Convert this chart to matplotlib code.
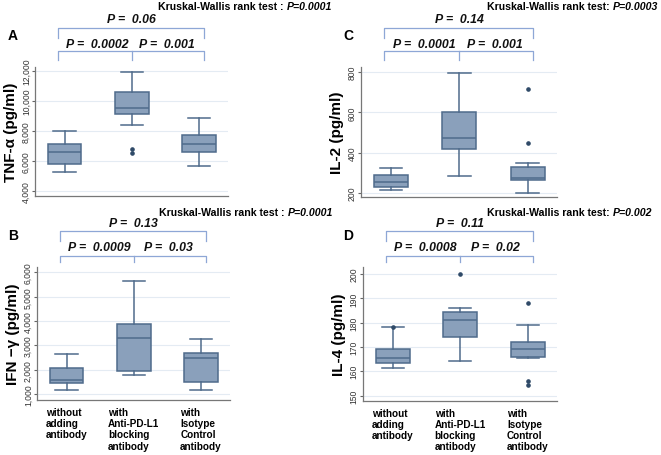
import matplotlib.pyplot as plt
from matplotlib.transforms import blended_transform_factory

plt.rcParams['font.family'] = ['Liberation Sans', 'DejaVu Sans']

# group labels (shown under B and D)
groups = ['without\nadding\nantibody',
          'with\nAnti-PD-L1\nblocking\nantibody',
          'with\nIsotype\nControl\nantibody']

# box stats per panel: (whislo, q1, med, q3, whishi, fliers)
tnf_stats = [(5270, 5800, 6580, 7110, 8000, []),
             (8420, 9150, 9550, 10620, 11950, [6800, 6510]),
             (5650, 6600, 7130, 7730, 8870, [])]
il2_stats = [(212, 228, 253, 286, 323, []),
             (283, 420, 474, 601, 797, []),
             (198, 265, 272, 328, 349, [446, 714])]
ifn_stats = [(1165, 1467, 1565, 2070, 2656, []),
             (1780, 1945, 3310, 3880, 5660, []),
             (1180, 1510, 2480, 2690, 3260, [])]
il4_stats = [(161.4, 163.5, 165.3, 169.1, 178.2, [178.2]),
             (164.3, 174, 181, 184.2, 186.2, [200]),
             (165.3, 166, 169.1, 172.1, 179.1, [188, 156, 154.3])]

panels = [
    # letter, ylabel, stats, yticks, ylim, kw text, kw p, p12, p23, p13
    ('A', 'TNF-α (pg/ml)', tnf_stats, [4000, 6000, 8000, 10000, 12000], (3667, 12267),
     'Kruskal-Wallis rank test : ', 'P=0.0001', '0.0002', '0.001', '0.06'),
    ('C', 'IL-2 (pg/ml)', il2_stats, [200, 400, 600, 800], (178.6, 826),
     'Kruskal-Wallis rank test: ', 'P=0.0003', '0.0001', '0.001', '0.14'),
    ('B', 'IFN −γ (pg/ml)', ifn_stats, [1000, 2000, 3000, 4000, 5000, 6000], (754, 6217),
     'Kruskal-Wallis rank test : ', 'P=0.0001', '0.0009', '0.03', '0.13'),
    ('D', 'IL-4 (pg/ml)', il4_stats, [150, 160, 170, 180, 190, 200], (147.9, 202.9),
     'Kruskal-Wallis rank test: ', 'P=0.002', '0.0008', '0.02', '0.11'),
]

# axes rectangles in pixels (left, top, right, bottom), letter x, kw text x
rects = [(35, 68, 228, 197, 8, 158), (361, 68, 557, 198, 343, 487),
         (37, 268, 230, 401, 8, 159), (363, 268, 557, 401.7, 343, 487)]
# vertical offsets (px above axes top): kw, p top, top bracket, top feet, p low, low bracket, low feet
offs_top = (61, 48, 39.5, 29, 23.5, 16, 7.5)
offs_bot = (55.3, 44, 35.8, 25.8, 19.5, 11, 5)

W, H = 661, 456
fig = plt.figure(figsize=(W / 100, H / 100), dpi=100)

box_fill = '#8aa0bb'
box_edge = '#4f6b8b'
bracket_c = '#8ea7d6'

for i, ((letter, ylab, stats, yt, ylim, kw, kwp, p12, p23, p13), (l, t, r, b, lx, kx)) in \
        enumerate(zip(panels, rects)):
    ax = fig.add_axes([l / W, 1 - b / H, (r - l) / W, (b - t) / H])
    bxp = []
    for s in stats:
        bxp.append(dict(whislo=s[0], q1=s[1], med=s[2], q3=s[3], whishi=s[4], fliers=s[5]))
    ax.bxp(bxp, positions=[1, 2, 3], widths=0.5, patch_artist=True,
           boxprops=dict(facecolor=box_fill, edgecolor=box_edge, linewidth=1.1),
           medianprops=dict(color=box_edge, linewidth=1.1),
           whiskerprops=dict(color=box_edge, linewidth=1.1),
           capprops=dict(color=box_edge, linewidth=1.1),
           flierprops=dict(marker='o', markersize=2.3, markerfacecolor='#2f4a68',
                           markeredgecolor='#2f4a68'),
           capwidths=0.33)
    ax.set_xlim(0.56, 3.43)
    ax.set_ylim(*ylim)
    ax.set_yticks(yt)
    ax.set_yticklabels([f'{v:,}' for v in yt], rotation=90, va='center', fontsize=6.2)
    ax.tick_params(axis='y', length=2, pad=1, color='#666666', labelcolor='#333333')
    ax.grid(axis='y', color='#e4ebf3', linewidth=0.8)
    ax.set_axisbelow(True)
    for sp in ['top', 'right']:
        ax.spines[sp].set_visible(False)
    for sp in ['left', 'bottom']:
        ax.spines[sp].set_color('#777777')
        ax.spines[sp].set_linewidth(0.9)
    ax.set_ylabel(ylab, fontsize=11, fontweight='bold', labelpad=3)

    if letter in ('B', 'D'):
        ax.set_xticks([1, 2, 3])
        ax.set_xticklabels(groups, fontsize=7.2, fontweight='bold',
                           multialignment='left', va='top', linespacing=1.15)
        ax.tick_params(axis='x', length=0, pad=5)
        offs = offs_bot
    else:
        ax.set_xticks([])
        offs = offs_top

    # brackets
    hpx = b - t
    tr = blended_transform_factory(ax.transData, ax.transAxes)
    kw_o, ptop_o, hi_o, hif_o, plo_o, lo_o, lof_o = [1 + o / hpx for o in offs]
    ax.plot([0.9, 0.9, 3.08, 3.08], [lof_o, lo_o, lo_o, lof_o], color=bracket_c,
            lw=0.9, transform=tr, clip_on=False)
    ax.plot([2, 2], [lof_o, lo_o], color=bracket_c, lw=0.9, transform=tr, clip_on=False)
    ax.plot([0.9, 0.9, 3.08, 3.08], [hif_o, hi_o, hi_o, hif_o], color=bracket_c,
            lw=0.9, transform=tr, clip_on=False)
    pfont = dict(fontsize=8.8, fontweight='bold', fontstyle='italic', transform=tr,
                 va='center', color='#111111')
    ax.text(1.48, plo_o, f'P =  {p12}', ha='center', **pfont)
    ax.text(2.52, plo_o, f'P =  {p23}', ha='center', **pfont)
    ax.text(2.0, ptop_o, f'P =  {p13}', ha='center', **pfont)

    # Kruskal-Wallis line, left edge in figure pixels
    t1 = fig.text(kx / W, 1 - (t - (kw_o - 1) * hpx) / H, kw, ha='left', va='center',
                  fontsize=7.6, fontweight='bold')
    fig.canvas.draw()
    ax.annotate(kwp, xy=(1, 0.5), xycoords=t1, ha='left', va='center',
                fontsize=7.6, fontweight='bold', fontstyle='italic')

    # panel letter
    fig.text(lx / W, 1 - (t - 32 / hpx * hpx) / H, letter, fontsize=10,
             fontweight='bold', ha='left', va='center')

fig.savefig('out.png', dpi=100)
